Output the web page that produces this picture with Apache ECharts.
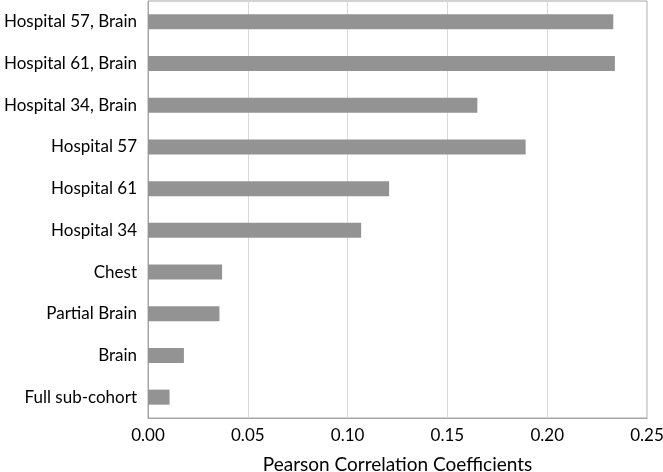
<!DOCTYPE html>
<html>
<head>
<meta charset="utf-8">
<script src="https://cdn.jsdelivr.net/npm/echarts@6/dist/echarts.min.js"></script>
<style>html,body{margin:0;padding:0;background:#fff;}#c{width:663px;height:472px;}</style>
</head>
<body>
<div id="c"></div>
<script>
// categories listed bottom to top (category axis starts at the bottom)
var categories = ["Full sub-cohort", "Brain", "Partial Brain", "Chest", "Hospital 34", "Hospital 61", "Hospital 57", "Hospital 34, Brain", "Hospital 61, Brain", "Hospital 57, Brain"];
var values = [0.0108, 0.0180, 0.0358, 0.0371, 0.1068, 0.1208, 0.1892, 0.1650, 0.2339, 0.2331];
var xTicks = [0, 0.05, 0.10, 0.15, 0.20, 0.25];
var xTitle = "Pearson Correlation Coefficients";

var chart = echarts.init(document.getElementById('c'), null, {renderer: 'canvas'});
var font = 'Lato, "Open Sans", sans-serif';
chart.setOption({
  animation: false,
  backgroundColor: '#fff',
  grid: {left: 148, right: 16, top: 1, bottom: 54, show: true, borderColor: '#a6a6a6', borderWidth: 1, containLabel: false, outerBoundsMode: 'none'},
  xAxis: {
    type: 'value', min: xTicks[0], max: xTicks[xTicks.length - 1], interval: 0.05,
    name: xTitle, nameLocation: 'middle', nameGap: 37,
    nameTextStyle: {fontFamily: font, fontSize: 19, color: '#000'},
    axisLine: {show: true, lineStyle: {color: '#a6a6a6'}},
    axisTick: {show: false},
    axisLabel: {fontFamily: font, fontSize: 17, color: '#000', margin: 9, formatter: function(v){return v.toFixed(2);}},
    splitLine: {show: true, lineStyle: {color: '#d9d9d9', width: 1}}
  },
  yAxis: {
    type: 'category', data: categories,
    axisLine: {show: true, lineStyle: {color: '#a6a6a6'}},
    axisTick: {show: false},
    axisLabel: {fontFamily: font, fontSize: 17, color: '#000', margin: 11},
    splitLine: {show: false}
  },
  series: [{
    type: 'bar', data: values, barWidth: 15,
    itemStyle: {color: '#939393'}
  }]
});
</script>
</body>
</html>
